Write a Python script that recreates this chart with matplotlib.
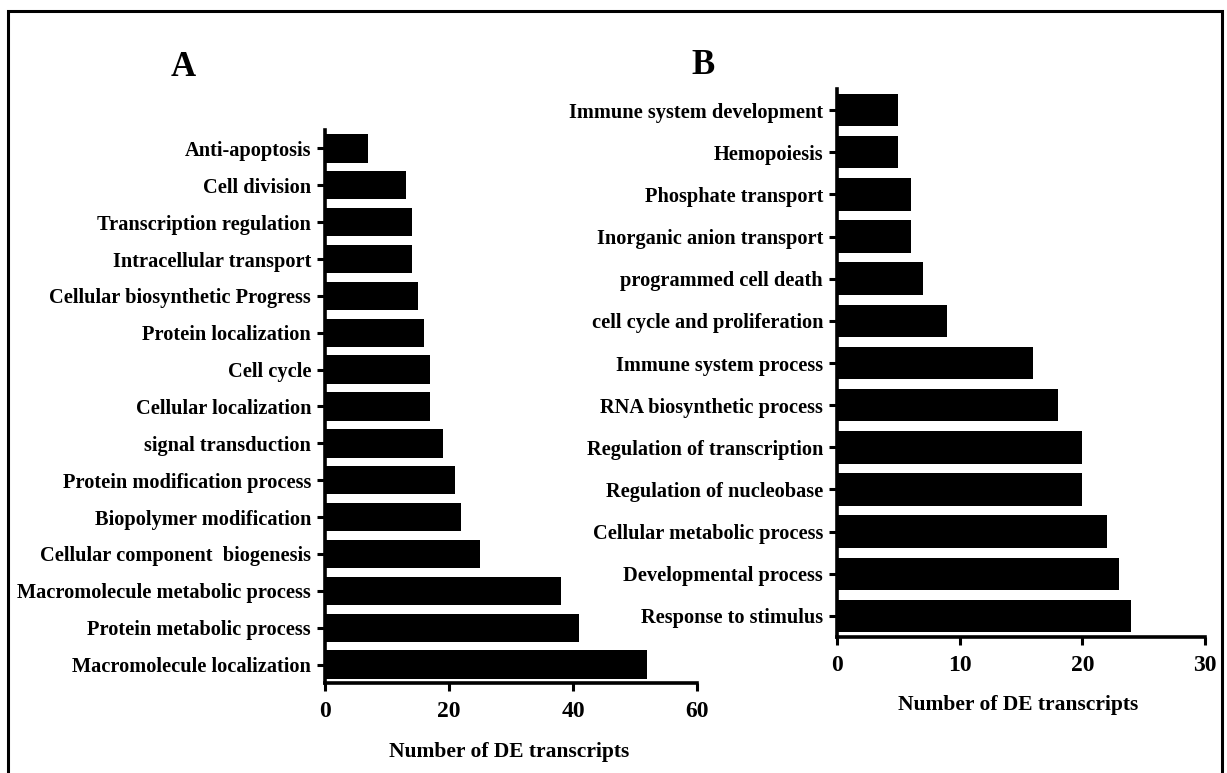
import numpy as np
import matplotlib
matplotlib.use("Agg")
import matplotlib.pyplot as plt
from matplotlib.patches import Rectangle

plt.rcParams['font.family'] = ['Liberation Serif', 'DejaVu Serif']
plt.rcParams['font.weight'] = 'bold'

# panel A: top to bottom as in the picture
terms_a = ["Anti-apoptosis", "Cell division", "Transcription regulation",
           "Intracellular transport", "Cellular biosynthetic Progress",
           "Protein localization", "Cell cycle", "Cellular localization",
           "signal transduction", "Protein modification process",
           "Biopolymer modification", "Cellular component  biogenesis",
           "Macromolecule metabolic process", "Protein metabolic process",
           "Macromolecule localization"]
counts_a = [7, 13, 14, 14, 15, 16, 17, 17, 19, 21, 22, 25, 38, 41, 52]
ticks_a = [0, 20, 40, 60]

# panel B
terms_b = ["Immune system development", "Hemopoiesis", "Phosphate transport",
           "Inorganic anion transport", "programmed cell death",
           "cell cycle and proliferation", "Immune system process",
           "RNA biosynthetic process", "Regulation of transcription",
           "Regulation of nucleobase", "Cellular metabolic process",
           "Developmental process", "Response to stimulus"]
counts_b = [5, 5, 6, 6, 7, 9, 16, 18, 20, 20, 22, 23, 24]
ticks_b = [0, 10, 20, 30]

W, H = 1227, 773
fig = plt.figure(figsize=(W / 100, H / 100), dpi=100)


def draw_panel(rect, terms, counts, ticks, xlab, xlab_pos):
    ax = fig.add_axes(rect)
    n = len(terms)
    ypos = np.arange(n)[::-1]
    ax.barh(ypos, counts, height=0.77, color='black')
    ax.set_ylim(-0.5, n - 0.5)
    ax.set_xlim(ticks[0], ticks[-1])
    ax.set_yticks(ypos)
    ax.set_yticklabels(terms, fontsize=14.7, fontweight='bold')
    ax.set_xticks(ticks)
    ax.set_xticklabels([str(t) for t in ticks], fontsize=17, fontweight='bold')
    for s in ['top', 'right']:
        ax.spines[s].set_visible(False)
    for s in ['left', 'bottom']:
        ax.spines[s].set_linewidth(2.6)
    ax.tick_params(axis='both', width=2.2, length=6, pad=4)
    ax.tick_params(axis='x', pad=7)
    fig.text(xlab_pos[0] / W, 1 - xlab_pos[1] / H, xlab, fontsize=15.5,
             fontweight='bold', ha='center', va='center')
    return ax


draw_panel([325 / W, 1 - 683 / H, 372 / W, 553 / H], terms_a, counts_a,
           ticks_a, "Number of DE transcripts", (509, 752))
draw_panel([837 / W, 1 - 637 / H, 368 / W, 548 / H], terms_b, counts_b,
           ticks_b, "Number of DE transcripts", (1018, 705))

fig.text(183 / W, 1 - 68 / H, "A", fontsize=25, fontweight='bold',
         ha='center', va='center')
fig.text(703 / W, 1 - 66 / H, "B", fontsize=25, fontweight='bold',
         ha='center', va='center')

# outer frame
fig.patches.append(Rectangle((8 / W, -0.05), (1222 - 8) / W, 1.05 - 11 / H,
                             transform=fig.transFigure, fill=False,
                             edgecolor='black', linewidth=2.2))

fig.savefig("out.png", dpi=100)
